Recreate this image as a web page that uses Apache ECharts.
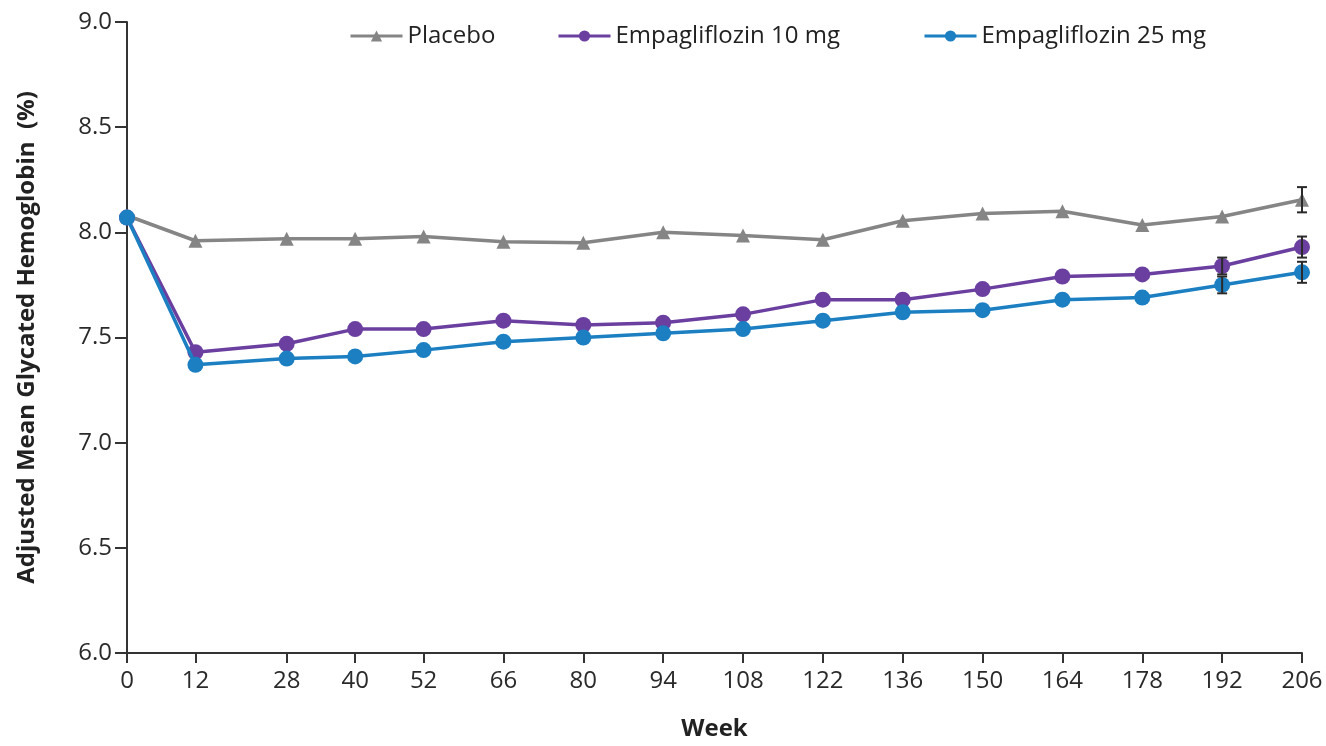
<!DOCTYPE html>
<html>
<head>
<meta charset="utf-8">
<script src="https://cdn.jsdelivr.net/npm/echarts@6/dist/echarts.min.js"></script>
<style>
html,body{margin:0;padding:0;background:#fff;}
#chart{width:1326px;height:746px;}
</style>
</head>
<body>
<div id="chart"></div>
<script>
const weeks = [0, 12, 28, 40, 52, 66, 80, 94, 108, 122, 136, 150, 164, 178, 192, 206];
const seriesNames = ['Placebo', 'Empagliflozin 10 mg', 'Empagliflozin 25 mg'];
const placebo = [8.08, 7.96, 7.97, 7.97, 7.98, 7.955, 7.95, 8.00, 7.985, 7.965, 8.055, 8.09, 8.10, 8.035, 8.075, 8.155];
const empa10  = [8.07, 7.43, 7.47, 7.54, 7.54, 7.58, 7.56, 7.57, 7.61, 7.68, 7.68, 7.73, 7.79, 7.80, 7.84, 7.93];
const empa25  = [8.07, 7.37, 7.40, 7.41, 7.44, 7.48, 7.50, 7.52, 7.54, 7.58, 7.62, 7.63, 7.68, 7.69, 7.75, 7.81];
// error bars: [week, half-width]
const errPlacebo = [[206, 0.06]];
const errEmpa10  = [[192, 0.04], [206, 0.05]];
const errEmpa25  = [[192, 0.04], [206, 0.05]];

const FONT = 'Open Sans';
const colGray = '#858585', colPurple = '#6a3fa0', colBlue = '#1b7fc2';

function pairs(vals){ return weeks.map((w,i)=>[w, vals[i]]); }
function errData(err, vals){
  return err.map(([w,h])=>{ const v = vals[weeks.indexOf(w)]; return [w, v-h, v+h]; });
}
function errSeries(name, err, vals){
  return {
    type:'custom', name: name + ' err', z: 5, silent:true,
    data: errData(err, vals),
    renderItem: function(params, api){
      const x = api.value(0);
      const a = api.coord([x, api.value(1)]);
      const b = api.coord([x, api.value(2)]);
      const cw = 5;
      const st = {stroke:'#2a2a2a', lineWidth:2};
      return {type:'group', children:[
        {type:'line', shape:{x1:a[0],y1:a[1],x2:b[0],y2:b[1]}, style:st},
        {type:'line', shape:{x1:a[0]-cw,y1:a[1],x2:a[0]+cw,y2:a[1]}, style:st},
        {type:'line', shape:{x1:b[0]-cw,y1:b[1],x2:b[0]+cw,y2:b[1]}, style:st}
      ]};
    }
  };
}
function legendAt(name, left){
  return {
    left:left, top:19, itemWidth:52, itemHeight:14, itemGap:0,
    lineStyle:{width:3},
    textStyle:{fontFamily:FONT, fontSize:24, color:'#222'},
    data:[name]
  };
}

const chart = echarts.init(document.getElementById('chart'), null, {renderer:'canvas'});
chart.setOption({
  animation:false,
  textStyle:{fontFamily:FONT},
  grid:{left:127, right:24, top:22, bottom:90, containLabel:false},
  legend:[legendAt(seriesNames[0], 344), legendAt(seriesNames[1], 552), legendAt(seriesNames[2], 918)],
  xAxis:{
    type:'value', min:0, max:206,
    name:'Week', nameLocation:'middle', nameGap:64,
    nameTextStyle:{fontFamily:FONT, fontSize:24, fontWeight:'bold', color:'#222'},
    axisLine:{show:true, lineStyle:{color:'#333', width:2}},
    axisTick:{show:true, customValues:weeks, length:10, lineStyle:{color:'#333', width:2}},
    axisLabel:{customValues:weeks, fontFamily:FONT, fontSize:24, color:'#2a2a2a', margin:16},
    splitLine:{show:false}
  },
  yAxis:{
    type:'value', min:6, max:9, interval:0.5,
    name:'Adjusted Mean Glycated Hemoglobin  (%)', nameLocation:'middle', nameGap:88,
    nameTextStyle:{fontFamily:FONT, fontSize:24, fontWeight:'bold', color:'#222'},
    axisLine:{show:true, lineStyle:{color:'#333', width:2}},
    axisTick:{show:true, length:12, lineStyle:{color:'#333', width:2}},
    axisLabel:{fontFamily:FONT, fontSize:24, color:'#2a2a2a', margin:15, formatter:v=>v.toFixed(1)},
    splitLine:{show:false}
  },
  series:[
    {name:seriesNames[0], type:'line', data:pairs(placebo), symbol:'triangle', symbolSize:14,
     itemStyle:{color:colGray}, lineStyle:{color:colGray, width:3.5}, z:3},
    {name:seriesNames[1], type:'line', data:pairs(empa10), symbol:'circle', symbolSize:16,
     itemStyle:{color:colPurple}, lineStyle:{color:colPurple, width:3.5}, z:3},
    {name:seriesNames[2], type:'line', data:pairs(empa25), symbol:'circle', symbolSize:16,
     itemStyle:{color:colBlue}, lineStyle:{color:colBlue, width:3.5}, z:4},
    errSeries(seriesNames[0], errPlacebo, placebo),
    errSeries(seriesNames[1], errEmpa10, empa10),
    errSeries(seriesNames[2], errEmpa25, empa25)
  ]
});
</script>
</body>
</html>
